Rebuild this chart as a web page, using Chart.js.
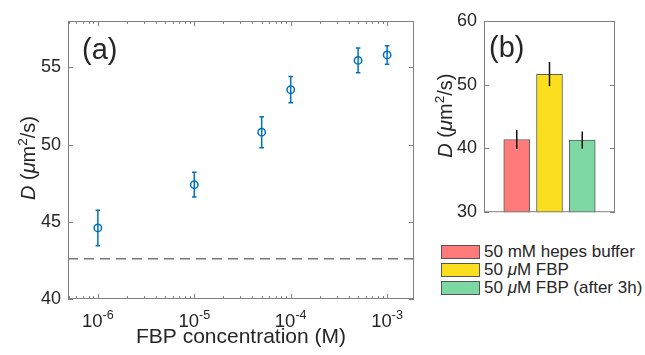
<!DOCTYPE html>
<html>
<head>
<meta charset="utf-8">
<script src="https://cdn.jsdelivr.net/npm/chart.js@4.4.1/dist/chart.umd.min.js"></script>
<style>
  html, body { margin: 0; padding: 0; background: #fff; }
  #wrap { position: relative; width: 645px; height: 355px; overflow: hidden;
          font-family: "Liberation Sans", Arial, sans-serif; color: #262626; }
  #chartA { position: absolute; left: 0; top: 0; }
  #chartB { position: absolute; left: 420px; top: 0; }
  #legendB { position: absolute; left: 441px; top: 243px; font-size: 17px; }
  .row { display: flex; align-items: center; height: 18px; white-space: nowrap; }
  .box { width: 37px; height: 12px; border: 1px solid #555; margin-right: 4px; }
</style>
</head>
<body>
<div id="wrap">
  <canvas id="chartA" width="420" height="355"></canvas>
  <canvas id="chartB" width="225" height="230"></canvas>
  <div id="legendB"></div>
</div>
<script>
// (a) D vs FBP concentration
const fbpConc = [1e-6, 1e-5, 5e-5, 1e-4, 5e-4, 1e-3];
const diffA = [44.6, 47.4, 50.8, 53.55, 55.45, 55.8];
const errA = [1.15, 0.8, 1.0, 0.85, 0.8, 0.6];
const bufferLevel = 42.6;
const xRangeA = [4.9e-7, 1.9e-3];
const yTicksA = [40, 45, 50, 55];
const xTickExps = [-6, -5, -4, -3];

// (b) bars
const conditions = ['50 mM hepes buffer', '50 μM FBP', '50 μM FBP (after 3h)'];
const diffB = [41.4, 51.65, 41.3];
const errB = [1.5, 1.9, 1.35];
const barColors = ['#ff7b7b', '#fbdf1f', '#7ed8a4'];
const yTicksB = [30, 40, 50, 60];

const FONT = '"Liberation Sans", Arial, sans-serif';
const TXT = '#262626';
const AXIS = '#808080';
const BLUE = '#0072bd';
Chart.defaults.font.family = FONT;
Chart.defaults.color = TXT;

// text with italic / superscript parts: [text, style]
function richWidth(ctx, parts, size) {
  let w = 0;
  parts.forEach(([t, s]) => {
    ctx.font = (s === 'i' ? 'italic ' : '') + (s === 'sup' ? size * 0.68 : size) + 'px ' + FONT;
    w += ctx.measureText(t).width;
  });
  return w;
}
function drawRich(ctx, parts, x, y, size) {
  let cx = x;
  parts.forEach(([t, s]) => {
    ctx.font = (s === 'i' ? 'italic ' : '') + (s === 'sup' ? size * 0.68 : size) + 'px ' + FONT;
    ctx.fillText(t, cx, s === 'sup' ? y - size * 0.42 : y);
    cx += ctx.measureText(t).width;
  });
}
const yTitleParts = [['D', 'i'], [' (', ''], ['μ', 'i'], ['m', ''], ['2', 'sup'], ['/s)', '']];

function drawYTitle(ctx, x, yMid) {
  ctx.save();
  ctx.fillStyle = TXT;
  ctx.textBaseline = 'alphabetic';
  ctx.translate(x, yMid);
  ctx.rotate(-Math.PI / 2);
  const w = richWidth(ctx, yTitleParts, 20);
  drawRich(ctx, yTitleParts, -w / 2, 0, 20);
  ctx.restore();
}

// box with inward ticks (MATLAB style)
function drawFrame(chart, yTicks, xMajor, xMinor) {
  const { ctx, chartArea: a, scales } = chart;
  ctx.save();
  ctx.strokeStyle = AXIS;
  ctx.lineWidth = 1;
  ctx.strokeRect(a.left + 0.5, a.top + 0.5, a.right - a.left - 1, a.bottom - a.top - 1);
  ctx.beginPath();
  yTicks.forEach(v => {
    const y = Math.round(scales.y.getPixelForValue(v)) + 0.5;
    ctx.moveTo(a.left, y); ctx.lineTo(a.left + 5, y);
    ctx.moveTo(a.right, y); ctx.lineTo(a.right - 5, y);
  });
  const xt = (vals, len) => vals.forEach(v => {
    const x = Math.round(scales.x.getPixelForValue(v)) + 0.5;
    ctx.moveTo(x, a.bottom); ctx.lineTo(x, a.bottom - len);
    ctx.moveTo(x, a.top); ctx.lineTo(x, a.top + len);
  });
  xt(xMajor, 5);
  xt(xMinor, 3);
  ctx.stroke();
  ctx.restore();
}

const majorA = xTickExps.map(e => Math.pow(10, e));
const minorA = [];
for (let e = -7; e <= -3; e++) {
  for (let k = 2; k <= 9; k++) {
    const v = k * Math.pow(10, e);
    if (v >= xRangeA[0] && v <= xRangeA[1]) minorA.push(v);
  }
}

// 1. Chart (a)
const decorA = {
  id: 'decorA',
  afterDatasetsDraw(chart) {
    const { ctx, scales: { x, y } } = chart;
    ctx.save();
    ctx.strokeStyle = BLUE;
    ctx.lineWidth = 1.5;
    ctx.beginPath();
    fbpConc.forEach((c, i) => {
      const px = x.getPixelForValue(c);
      const top = y.getPixelForValue(diffA[i] + errA[i]);
      const bot = y.getPixelForValue(diffA[i] - errA[i]);
      ctx.moveTo(px, top); ctx.lineTo(px, bot);
      ctx.moveTo(px - 2.3, top); ctx.lineTo(px + 2.3, top);
      ctx.moveTo(px - 2.3, bot); ctx.lineTo(px + 2.3, bot);
    });
    ctx.stroke();
    ctx.restore();
  },
  afterDraw(chart) {
    const { ctx, chartArea: a, scales: { x } } = chart;
    drawFrame(chart, yTicksA, majorA, minorA);
    ctx.save();
    ctx.fillStyle = TXT;
    ctx.textBaseline = 'alphabetic';
    // x tick labels 10^n
    xTickExps.forEach(e => {
      const parts = [['10', ''], [String(e), 'sup']];
      const w = richWidth(ctx, parts, 18.5);
      drawRich(ctx, parts, x.getPixelForValue(Math.pow(10, e)) - w / 2, a.bottom + 28, 18.5);
    });
    ctx.font = '21px ' + FONT;
    ctx.textAlign = 'center';
    ctx.fillText('FBP concentration (M)', (a.left + a.right) / 2, a.bottom + 44);
    ctx.textAlign = 'left';
    ctx.font = '29px ' + FONT;
    ctx.fillText('(a)', 82, 59);
    ctx.restore();
    drawYTitle(ctx, 35, (a.top + a.bottom) / 2 - 2);
  }
};

new Chart(document.getElementById('chartA'), {
  type: 'scatter',
  data: {
    datasets: [{
      data: fbpConc.map((c, i) => ({ x: c, y: diffA[i] })),
      borderColor: BLUE,
      backgroundColor: 'transparent',
      borderWidth: 1.5,
      pointRadius: 3.7,
      pointHoverRadius: 3.7
    }, {
      data: xRangeA.map(c => ({ x: c, y: bufferLevel })),
      showLine: true,
      borderColor: '#333',
      borderWidth: 1,
      borderDash: [10, 6],
      pointRadius: 0
    }]
  },
  options: {
    responsive: false, animation: false,
    layout: { padding: { top: 21, right: 6, left: 0, bottom: 0 } },
    plugins: { legend: { display: false }, tooltip: { enabled: false } },
    scales: {
      x: {
        type: 'logarithmic', min: xRangeA[0], max: xRangeA[1],
        grid: { display: false, drawTicks: false }, border: { display: false },
        ticks: { display: false },
        afterFit: s => { s.height = 56; }
      },
      y: {
        min: 40, max: 58,
        grid: { display: false, drawTicks: false }, border: { display: false },
        ticks: { font: { size: 18 }, color: TXT, padding: 7 },
        afterBuildTicks: s => { s.ticks = yTicksA.map(v => ({ value: v })); },
        afterFit: s => { s.width = 68; }
      }
    }
  },
  plugins: [decorA]
});

// 2. Chart (b)
const decorB = {
  id: 'decorB',
  afterDatasetsDraw(chart) {
    const { ctx, scales: { x, y } } = chart;
    ctx.save();
    ctx.strokeStyle = '#111';
    ctx.lineWidth = 1.5;
    ctx.beginPath();
    diffB.forEach((v, i) => {
      const px = x.getPixelForValue(i + 1);
      ctx.moveTo(px, y.getPixelForValue(v + errB[i]));
      ctx.lineTo(px, y.getPixelForValue(v - errB[i]));
    });
    ctx.stroke();
    ctx.restore();
  },
  afterDraw(chart) {
    const { ctx, chartArea: a } = chart;
    drawFrame(chart, yTicksB, [], []);
    ctx.save();
    ctx.fillStyle = TXT;
    ctx.font = '29px ' + FONT;
    ctx.fillText('(b)', 69, 57);
    ctx.restore();
    drawYTitle(ctx, 32, (a.top + a.bottom) / 2 - 1);
  }
};

new Chart(document.getElementById('chartB'), {
  type: 'bar',
  data: {
    datasets: [{
      data: diffB.map((v, i) => ({ x: i + 1, y: v })),
      backgroundColor: barColors,
      borderColor: 'rgba(40,40,40,0.75)',
      borderWidth: 1,
      barThickness: 26
    }]
  },
  options: {
    responsive: false, animation: false,
    layout: { padding: { top: 21, right: 30, left: 0, bottom: 0 } },
    plugins: { legend: { display: false }, tooltip: { enabled: false } },
    scales: {
      x: {
        type: 'linear', min: 0, max: conditions.length + 1, offset: false,
        grid: { display: false, drawTicks: false }, border: { display: false },
        ticks: { display: false },
        afterFit: s => { s.height = 12; }
      },
      y: {
        min: 30, max: 60,
        grid: { display: false, drawTicks: false }, border: { display: false },
        ticks: { font: { size: 18 }, color: TXT, padding: 7 },
        afterBuildTicks: s => { s.ticks = yTicksB.map(v => ({ value: v })); },
        afterFit: s => { s.width = 64; }
      }
    }
  },
  plugins: [decorB]
});

// 3. Legend for (b)
document.getElementById('legendB').innerHTML = conditions.map((c, i) => `
  <div class="row"><div class="box" style="background:${barColors[i]}"></div><span>${c.replace('μ', '<i>μ</i>')}</span></div>
`).join('');
</script>
</body>
</html>
